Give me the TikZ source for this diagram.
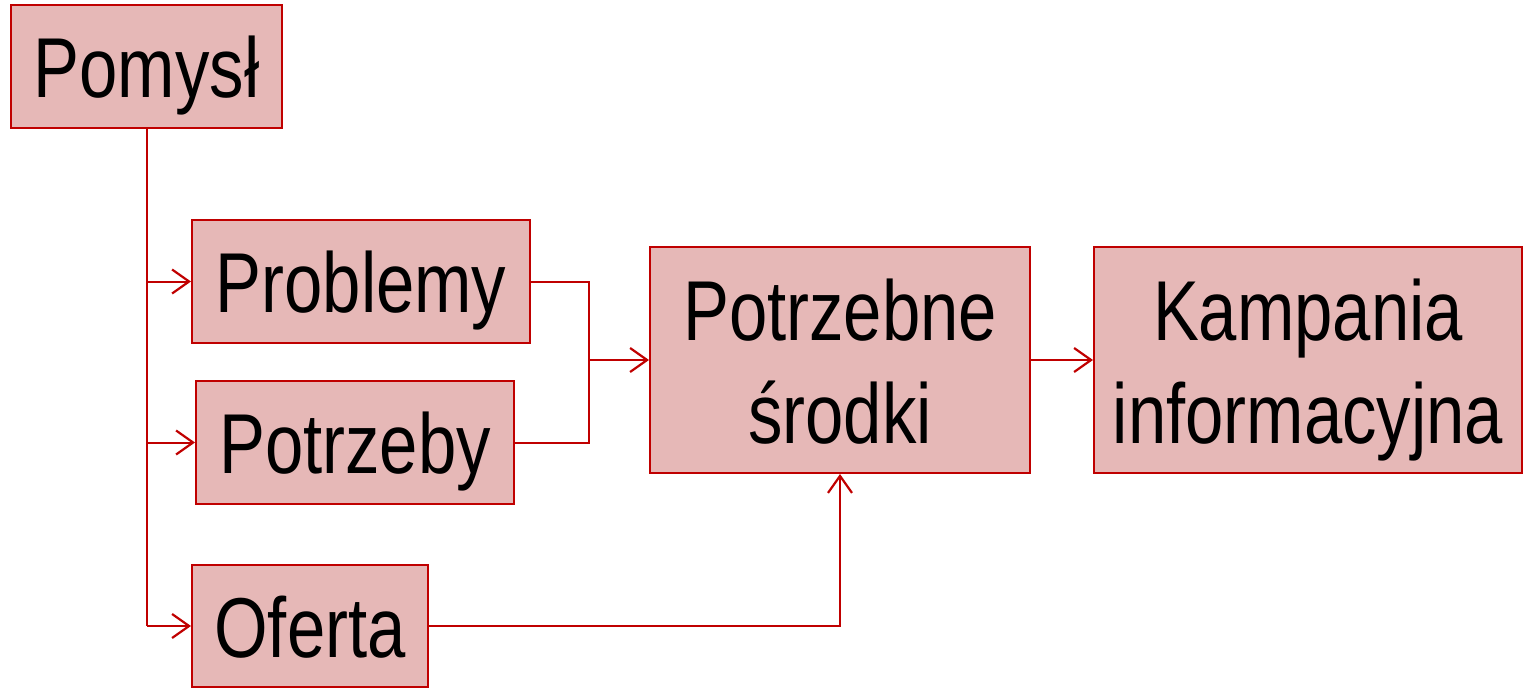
\documentclass[tikz,border=0pt]{standalone}
\usepackage{fontspec}
\setmainfont[FakeStretch=0.81]{Liberation Sans}
\usetikzlibrary{arrows.meta}
\definecolor{boxfill}{HTML}{E6B8B7}
\definecolor{boxline}{HTML}{C00000}
\tikzset{
  blk/.style={draw=boxline, fill=boxfill, line width=2pt, inner sep=0pt, align=center,
    font=\fontsize{85}{103}\selectfont, anchor=center},
  oneline/.style={blk, text height=70pt, text depth=8pt},
  twoline/.style={blk, text height=176pt, text depth=10pt},
  conn/.style={draw=boxline, line width=2pt},
  arr/.style={conn, -{Straight Barb[length=17pt,width=24pt,line width=2.2pt]}}
}
\begin{document}
\begin{tikzpicture}[x=1pt,y=-1pt]
\useasboundingbox (0,0) rectangle (1523,688);
\node[oneline, minimum width=271pt, minimum height=123pt] (pom) at (146.5,66.5) {Pomysł};
\node[oneline, minimum width=338pt, minimum height=123pt] (prob) at (361,281.5) {Problemy};
\node[oneline, minimum width=318pt, minimum height=123pt] (potr) at (355,442.5) {Potrzeby};
\node[oneline, minimum width=236pt, minimum height=122pt] (ofe) at (310,626) {Oferta};
\node[twoline, minimum width=380pt, minimum height=226pt] (sro) at (840,360) {Potrzebne\\środki};
\node[twoline, minimum width=428pt, minimum height=226pt] (kam) at (1308,360) {Kampania\\informacyjna};
\coordinate (trunk) at (147,626);
\coordinate (merge) at (589,360);
\draw[conn] (pom.south -| trunk) -- (trunk);
\draw[arr] (147,0 |- prob.west) -- (prob.west);
\draw[arr] (147,0 |- potr.west) -- (potr.west);
\draw[arr] (trunk) -- (ofe.west);
\draw[conn] (prob.east) -| (merge);
\draw[conn] (potr.east) -| (merge);
\draw[arr] (merge) -- (sro.west);
\draw[arr] (ofe.east) -| (sro.south);
\draw[arr] (sro.east) -- (kam.west);
\end{tikzpicture}
\end{document}
